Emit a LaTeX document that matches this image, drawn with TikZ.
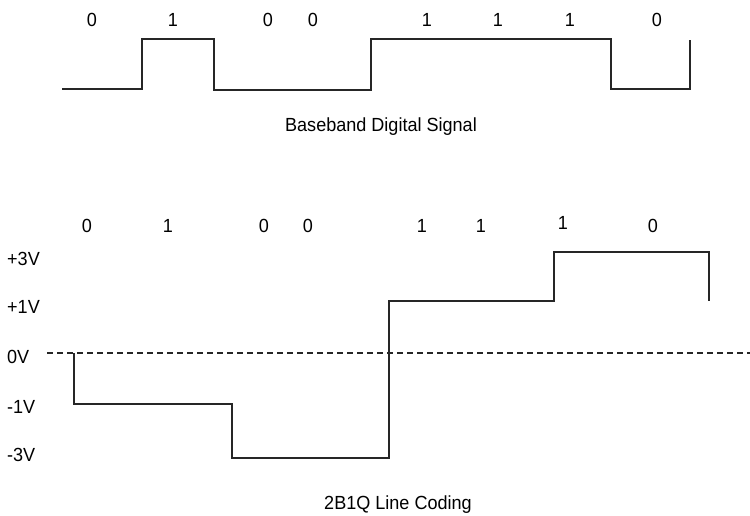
\documentclass[tikz,border=0pt]{standalone}
\usepackage{fontspec}
\setmainfont{Liberation Sans}[FakeStretch=0.95]
\usepackage{tikz}
\usetikzlibrary{positioning}

\begin{document}
\begin{tikzpicture}[x=1pt, y=-1pt,
  lbl/.style={font=\fontsize{19}{22}\selectfont, inner sep=0pt},
  wave/.style={line width=2pt, line join=miter, black!85}]
\def\ybit{19.5}  % bit row, top
\def\ybitb{225.5} % bit row, bottom
\def\yzero{353} % 0V
\useasboundingbox (0,0) rectangle (750,516);

% baseband signal
\draw[wave] (62,89) -- (142,89) -- (142,39) -- (214,39) -- (214,90) -- (371,90) -- (371,39)
  -- (611,39) -- (611,89) -- (690,89) -- (690,40);
\foreach \x/\b [count=\i] in {92/0,173/1,268/0,313/0,427/1,498/1,570/1,657/0}
  \node[lbl] (topbit\i) at (\x,\ybit) {\b};
\node[lbl] (basecap) at (381,127) {Baseband Digital Signal};

% 2B1Q levels
\foreach \v/\y [count=\i] in {+3V/259,+1V/307,0V/357,-1V/407,-3V/455}
  \node[lbl, anchor=west] (lev\i) at (7,\y) {\v};
\draw[line width=1.6pt, dash pattern=on 6pt off 4pt, black!85] (47,\yzero) -- (750,\yzero); % 0V line
\draw[wave] (74,\yzero) -- (74,404) -- (232,404) -- (232,458) -- (389,458) -- (389,301)
  -- (554,301) -- (554,252) -- (709,252) -- (709,301);
\foreach \x/\b/\dy [count=\i] in {87/0/0,168/1/0,264/0/0,308/0/0,422/1/0,481/1/0,563/1/-2.5,653/0/0}
  \node[lbl] (botbit\i) at (\x,\ybitb+\dy) {\b};
\node[lbl] (qcap) at (398,505) {2B1Q Line Coding};
\end{tikzpicture}
\end{document}
